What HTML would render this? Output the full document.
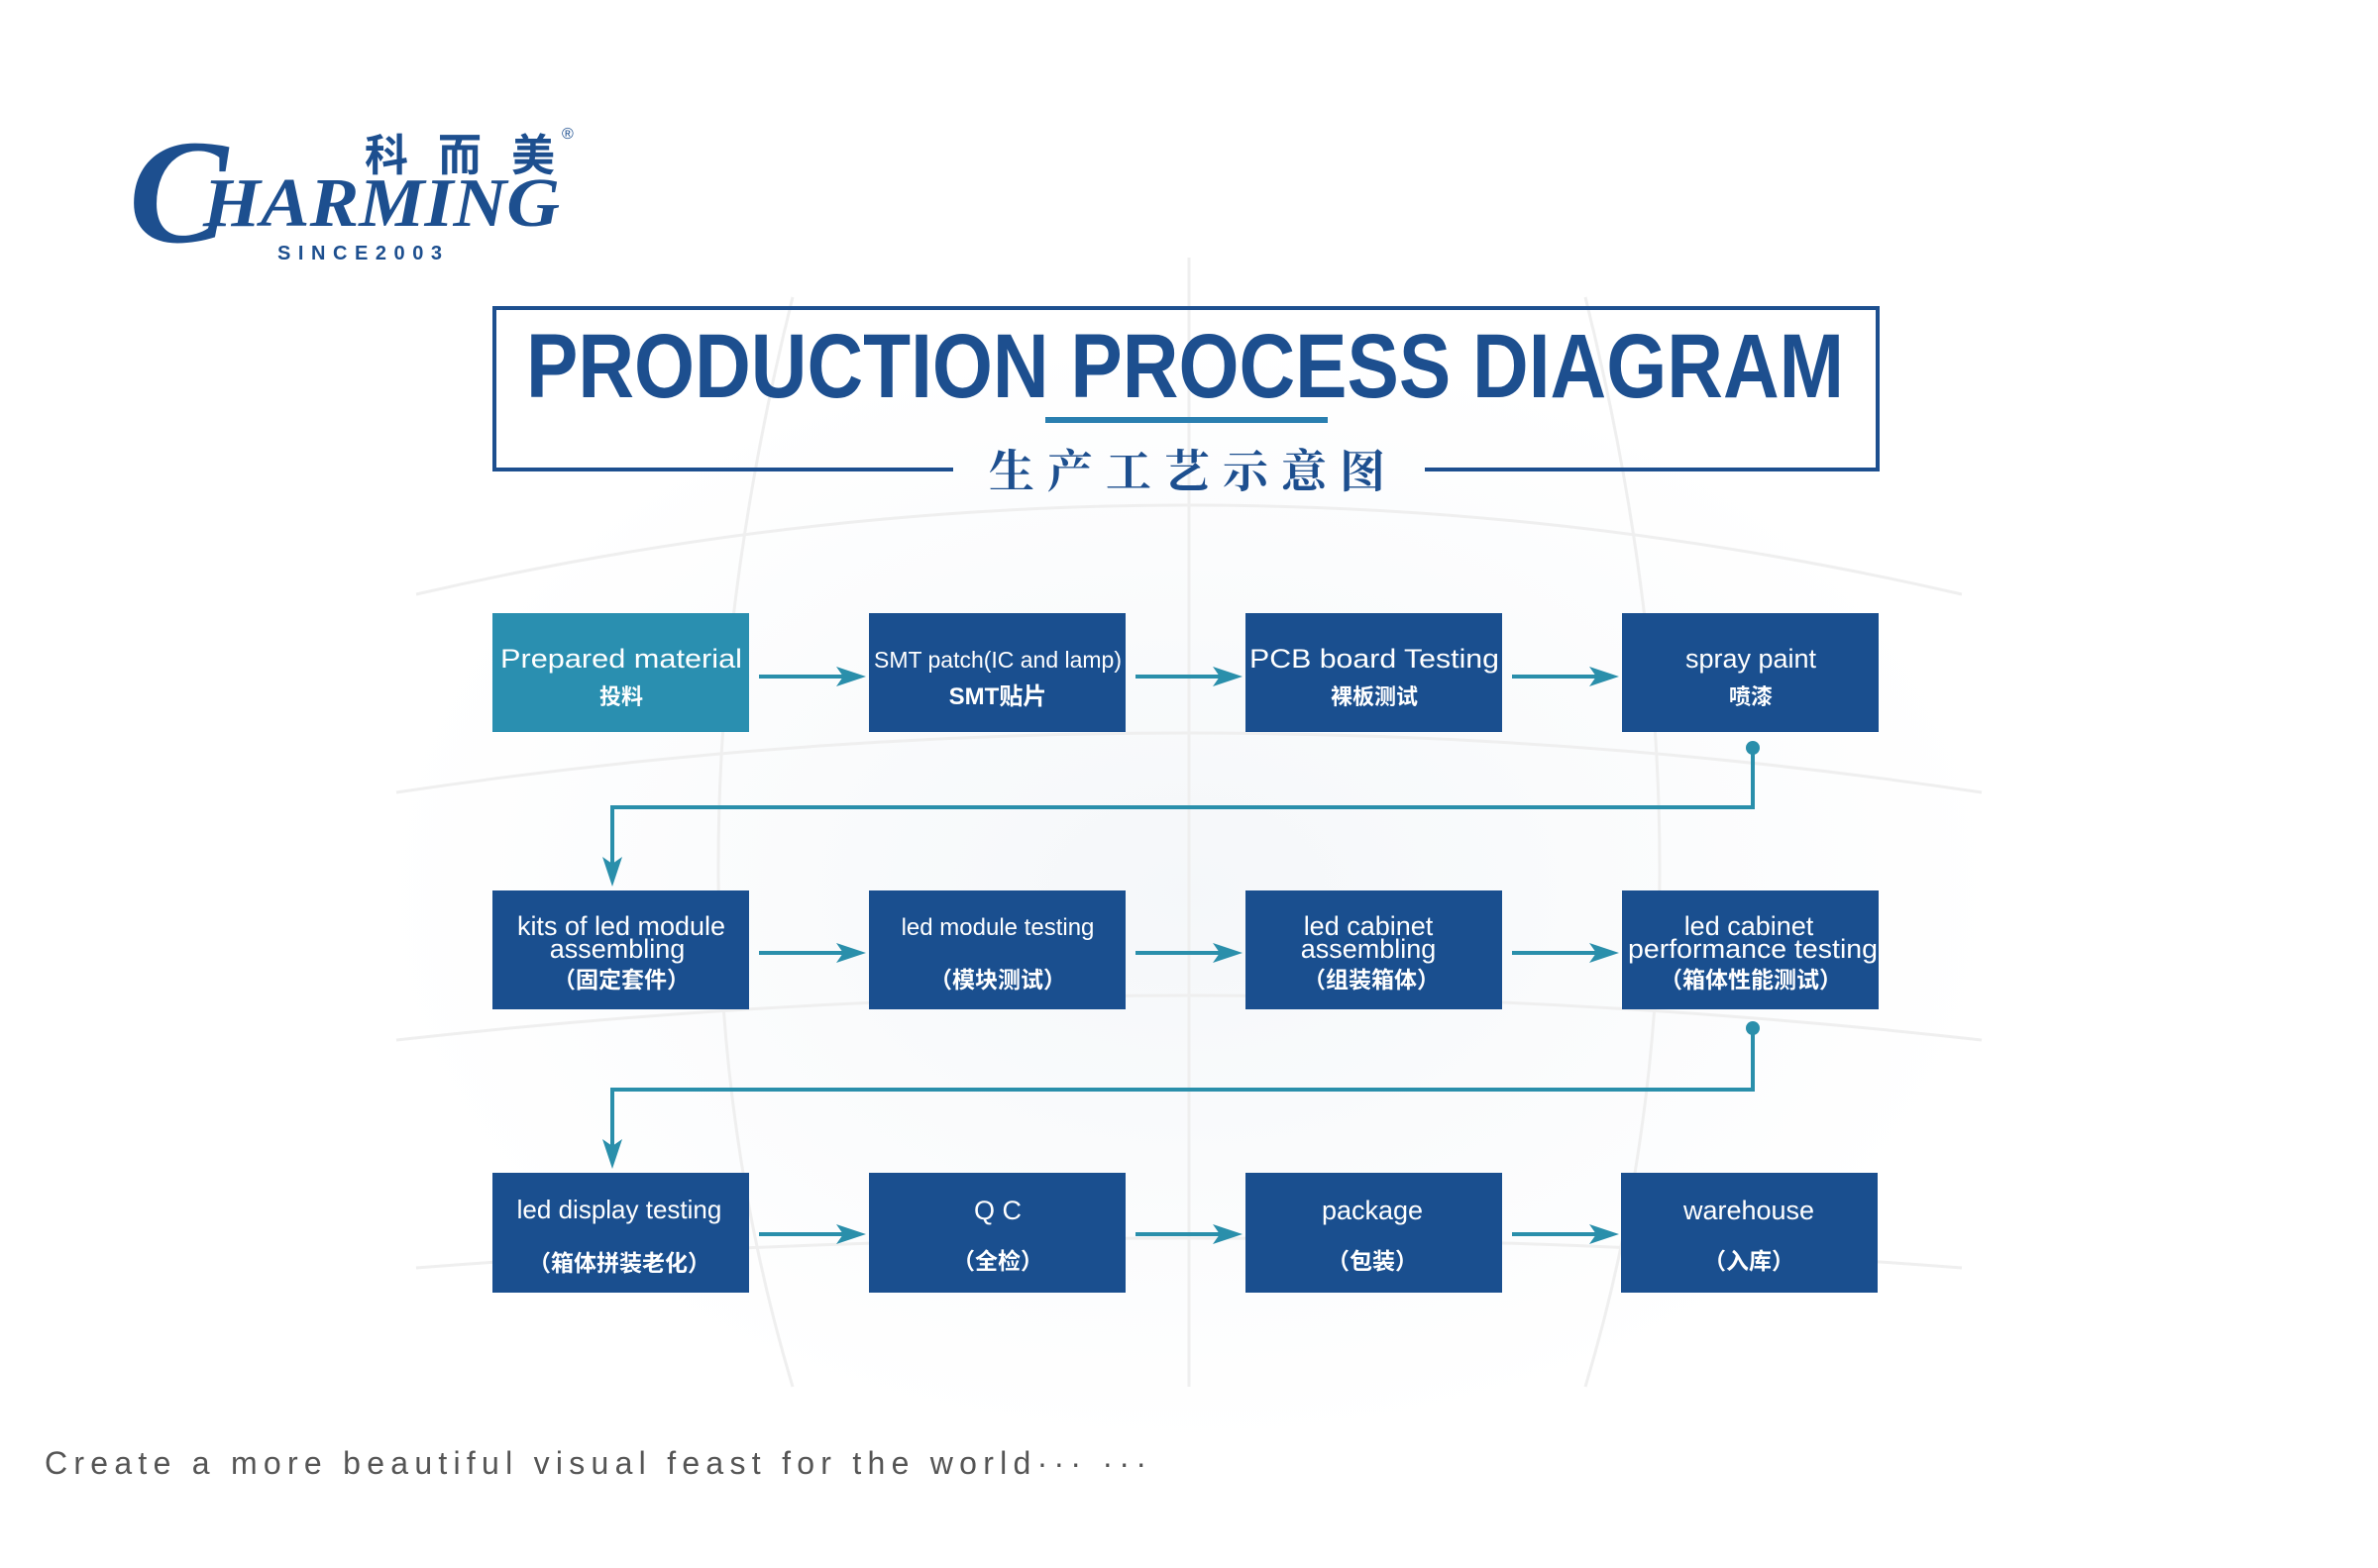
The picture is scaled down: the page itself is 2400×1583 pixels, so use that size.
<!DOCTYPE html>
<html><head><meta charset="utf-8"><style>
html,body{margin:0;padding:0;background:#fff;}
svg{display:block;}
</style></head><body>
<svg width="2400" height="1583" viewBox="0 0 2400 1583" xmlns="http://www.w3.org/2000/svg">
<defs>
<radialGradient id="glob" cx="0.5" cy="0.5" r="0.5"><stop offset="0" stop-color="#eef2f6"/><stop offset="1" stop-color="#ffffff"/></radialGradient>
</defs>
<rect width="2400" height="1583" fill="#fff"/>
<ellipse cx="1200" cy="900" rx="820" ry="560" fill="url(#glob)" opacity="0.6"/>
<g stroke="#efefef" stroke-width="3" fill="none">
<path d="M420 600 Q1200 420 1980 600"/><path d="M400 800 Q1200 680 2000 800"/><path d="M400 1050 Q1200 960 2000 1050"/><path d="M420 1280 Q1200 1220 1980 1280"/>
<path d="M800 300 Q650 900 800 1400"/><path d="M1200 260 L1200 1400"/><path d="M1600 300 Q1750 900 1600 1400"/>
</g>

<!-- Logo -->
<text x="130" y="244" font-family="Liberation Serif, serif" font-style="italic" font-weight="bold" font-size="150" fill="#1d4f8f">C</text>
<text x="205" y="228" font-family="Liberation Serif, serif" font-style="italic" font-weight="bold" font-size="70" fill="#1d4f8f" textLength="360" lengthAdjust="spacingAndGlyphs">HARMING</text>
<text x="368" y="172" font-family="Liberation Sans, 'Noto Sans CJK SC', sans-serif" font-weight="bold" font-size="44" fill="#1d4f8f" letter-spacing="30">科而美</text>
<text x="567" y="140" font-family="Liberation Sans, sans-serif" font-size="16" fill="#1d4f8f">®</text>
<text x="280" y="262" font-family="Liberation Sans, sans-serif" font-weight="bold" font-size="20" fill="#1d4f8f" textLength="166" lengthAdjust="spacing">SINCE2003</text>

<!-- Title box -->
<path d="M962 474 L499 474 L499 311 L1895 311 L1895 474 L1438 474" stroke="#1d4f8f" stroke-width="4" fill="none"/>
<text x="531" y="401" font-family="Liberation Sans, sans-serif" font-weight="bold" font-size="92" fill="#1d4f8f" textLength="1330" lengthAdjust="spacingAndGlyphs">PRODUCTION PROCESS DIAGRAM</text>
<rect x="1055" y="421" width="285" height="6" fill="#2a7fb0"/>
<text x="998" y="492" font-family="'Noto Serif CJK SC', serif" font-weight="bold" font-size="46" fill="#1d4f8f" textLength="400" lengthAdjust="spacing">生产工艺示意图</text>

<g stroke="#2a8fab" stroke-width="4" fill="none">
<line x1="766" y1="683" x2="860" y2="683"/><line x1="1146" y1="683" x2="1240" y2="683"/><line x1="1526" y1="683" x2="1620" y2="683"/>
<line x1="766" y1="962" x2="860" y2="962"/><line x1="1146" y1="962" x2="1240" y2="962"/><line x1="1526" y1="962" x2="1620" y2="962"/>
<line x1="766" y1="1246" x2="860" y2="1246"/><line x1="1146" y1="1246" x2="1240" y2="1246"/><line x1="1526" y1="1246" x2="1620" y2="1246"/>
<path d="M1769 755 L1769 815 L618 815 L618 880"/>
<path d="M1769 1038 L1769 1100 L618 1100 L618 1165"/>
</g>
<g fill="#2a8fab">
<path d="M874 683 l-30 -10 l7 10 l-7 10z"/><path d="M1254 683 l-30 -10 l7 10 l-7 10z"/><path d="M1634 683 l-30 -10 l7 10 l-7 10z"/>
<path d="M874 962 l-30 -10 l7 10 l-7 10z"/><path d="M1254 962 l-30 -10 l7 10 l-7 10z"/><path d="M1634 962 l-30 -10 l7 10 l-7 10z"/>
<path d="M874 1246 l-30 -10 l7 10 l-7 10z"/><path d="M1254 1246 l-30 -10 l7 10 l-7 10z"/><path d="M1634 1246 l-30 -10 l7 10 l-7 10z"/>
<circle cx="1769" cy="755" r="7"/><circle cx="1769" cy="1038" r="7"/>
<path d="M618 895 l-10 -30 l10 7 l10 -7z"/><path d="M618 1180 l-10 -30 l10 7 l10 -7z"/>
</g>

<g>
<rect x="497" y="619" width="259" height="120" fill="#2a8fb0"/>
<rect x="877" y="619" width="259" height="120" fill="#1a4f8f"/>
<rect x="1257" y="619" width="259" height="120" fill="#1a4f8f"/>
<rect x="1637" y="619" width="259" height="120" fill="#1a4f8f"/>
<rect x="497" y="899" width="259" height="120" fill="#1a4f8f"/>
<rect x="877" y="899" width="259" height="120" fill="#1a4f8f"/>
<rect x="1257" y="899" width="259" height="120" fill="#1a4f8f"/>
<rect x="1637" y="899" width="259" height="120" fill="#1a4f8f"/>
<rect x="497" y="1184" width="259" height="121" fill="#1a4f8f"/>
<rect x="877" y="1184" width="259" height="121" fill="#1a4f8f"/>
<rect x="1257" y="1184" width="259" height="121" fill="#1a4f8f"/>
<rect x="1636" y="1184" width="259" height="121" fill="#1a4f8f"/>
</g>
<g font-family="Liberation Sans, 'Noto Sans CJK SC', sans-serif" fill="#fff" text-anchor="middle" font-size="27">
<text x="627" y="674" textLength="244" lengthAdjust="spacingAndGlyphs">Prepared material</text>
<text x="627" y="711" font-size="22" font-weight="bold">投料</text>
<text x="1007" y="674" font-size="23" textLength="250" lengthAdjust="spacingAndGlyphs">SMT patch(IC and lamp)</text>
<text x="1007" y="711" font-size="24" font-weight="bold">SMT贴片</text>
<text x="1387" y="674" textLength="252" lengthAdjust="spacingAndGlyphs">PCB board Testing</text>
<text x="1387" y="711" font-size="22" font-weight="bold">裸板测试</text>
<text x="1767" y="674">spray paint</text>
<text x="1767" y="711" font-size="22" font-weight="bold">喷漆</text>

<text x="627" y="944">kits of led module</text>
<text x="623" y="967">assembling</text>
<text x="627" y="997" font-size="23" font-weight="bold">（固定套件）</text>
<text x="1007" y="944" font-size="24">led module testing</text>
<text x="1007" y="997" font-size="23" font-weight="bold">（模块测试）</text>
<text x="1381" y="944">led cabinet</text>
<text x="1381" y="967">assembling</text>
<text x="1384" y="997" font-size="23" font-weight="bold">（组装箱体）</text>
<text x="1765" y="944">led cabinet</text>
<text x="1769" y="967" textLength="252" lengthAdjust="spacingAndGlyphs">performance testing</text>
<text x="1767" y="997" font-size="23" font-weight="bold">（箱体性能测试）</text>

<text x="625" y="1230" font-size="26">led display testing</text>
<text x="625" y="1283" font-size="23" font-weight="bold">（箱体拼装老化）</text>
<text x="1007" y="1231">Q C</text>
<text x="1007" y="1281" font-size="23" font-weight="bold">（全检）</text>
<text x="1385" y="1231">package</text>
<text x="1385" y="1281" font-size="23" font-weight="bold">（包装）</text>
<text x="1765" y="1231">warehouse</text>
<text x="1765" y="1281" font-size="23" font-weight="bold">（入库）</text>
</g>

<text x="45" y="1488" font-family="Liberation Sans, sans-serif" font-size="32" fill="#555" textLength="1112" lengthAdjust="spacing">Create a more beautiful visual feast for the world··· ···</text>
</svg>
</body></html>
